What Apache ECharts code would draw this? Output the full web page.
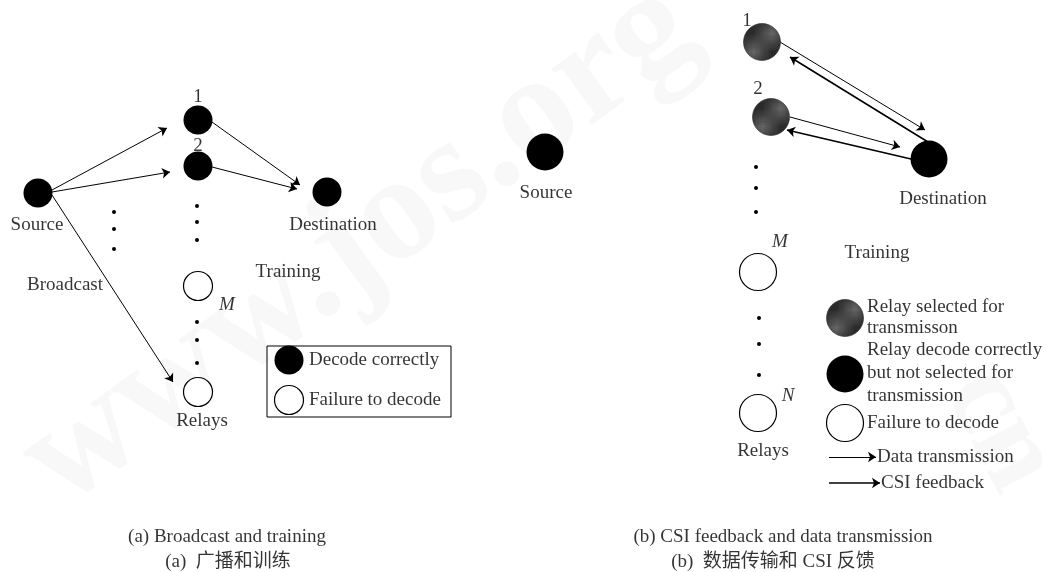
<!DOCTYPE html>
<html>
<head>
<meta charset="utf-8">
<title>Relay selection: broadcast, training and feedback</title>
<script src="https://cdn.jsdelivr.net/npm/echarts@6/dist/echarts.min.js"></script>
<style>
  html, body { margin: 0; padding: 0; background: #fff; }
  #main { width: 1046px; height: 572px; }
</style>
</head>
<body>
<div id="main"></div>
<script>
// the figure lives in its own space: x to the right, y downwards (same span as the picture)

// (a) broadcast and training -- [x, y, kind]
const nodesA = [
  [38, 193, 'solid'],   // Source
  [198, 120, 'solid'],  // relay 1
  [198, 166, 'solid'],  // relay 2
  [327, 192, 'solid'],  // Destination
  [198, 286, 'open'],   // relay M
  [198, 392, 'open']    // last relay
];
const legendNodesA = [[289, 360, 'solid'], [289, 400, 'open']];
const dotsA = [[114, 212], [114, 229], [114, 249], [197, 206], [197, 222], [197, 240], [197, 322], [197, 340], [197, 363]];
const arrowsA = [ // [x1, y1, x2, y2]
  [52, 190, 167, 128],
  [52, 192, 170, 172],
  [212, 122, 300, 185],
  [212, 167, 297, 189],
  [52, 195, 173, 382]
];
const legendBoxA = [[267, 346], [451, 346], [451, 417], [267, 417], [267, 346]];

// (b) CSI feedback and data transmission
const nodesB = [
  [545, 152, 'solid'],  // Source
  [762, 42, 'hatch'],   // relay 1
  [771, 117, 'hatch'],  // relay 2
  [929, 159, 'solid'],  // Destination
  [758, 272, 'open'],   // relay M
  [758, 413, 'open']    // relay N
];
const legendNodesB = [[845, 318, 'hatch'], [845, 374, 'solid'], [845, 423, 'open']];
const dotsB = [[756, 167], [756, 188], [756, 212], [759, 318], [759, 344], [759, 375]];
const dataArrowsB = [[780, 42, 925, 130], [790, 117, 900, 147], [829, 457, 876, 457]];
const csiArrowsB = [[928, 142, 790, 57], [911, 159, 787, 130], [829, 483, 880, 483]];

// texts -- [text, x, y, align, italic]
const labels = [
  ['1', 198, 97, 'center'],
  ['2', 198, 146, 'center'],
  ['Source', 37, 225, 'center'],
  ['Destination', 333, 225, 'center'],
  ['Broadcast', 65, 285, 'center'],
  ['Training', 288, 272, 'center'],
  ['M', 227, 305, 'center', true],
  ['Relays', 202, 421, 'center'],
  ['Decode correctly', 309, 360, 'left'],
  ['Failure to decode', 309, 400, 'left'],
  ['1', 747, 21, 'center'],
  ['2', 758, 89, 'center'],
  ['Source', 546, 193, 'center'],
  ['Destination', 943, 199, 'center'],
  ['M', 780, 242, 'center', true],
  ['Training', 877, 253, 'center'],
  ['N', 788, 396, 'center', true],
  ['Relays', 763, 451, 'center'],
  ['Relay selected for', 867, 307, 'left'],
  ['transmisson', 867, 328, 'left'],
  ['Relay decode correctly', 867, 350, 'left'],
  ['but not selected for', 867, 373, 'left'],
  ['transmission', 867, 396, 'left'],
  ['Failure to decode', 867, 423, 'left'],
  ['Data transmission', 877, 457, 'left'],
  ['CSI feedback', 881, 483, 'left']
];
const captions = [
  ['(a) Broadcast and training', 227, 537],
  ['(a)  广播和训练', 228, 562],
  ['(b) CSI feedback and data transmission', 783, 537],
  ['(b)  数据传输和 CSI 反馈', 773, 562]
];

const serif = "'Liberation Serif', 'Times New Roman', serif";

// dark hatch fill for the selected relays
const hatch = document.createElement('canvas');
hatch.width = 4;
hatch.height = 4;
const hg = hatch.getContext('2d');
hg.fillStyle = '#2a2a2a';
hg.fillRect(0, 0, 4, 4);
hg.strokeStyle = '#777';
hg.lineWidth = 0.8;
hg.beginPath();
hg.moveTo(0, 4); hg.lineTo(4, 0);
hg.moveTo(-1, 1); hg.lineTo(1, -1);
hg.moveTo(3, 5); hg.lineTo(5, 3);
hg.stroke();

function nodeStyle(kind) {
  if (kind === 'open') return { color: '#fff', borderColor: '#000', borderWidth: 1.2, opacity: 1 };
  if (kind === 'hatch') return { color: { image: hatch, repeat: 'repeat' }, borderColor: '#222', borderWidth: 0.6, opacity: 1 };
  return { color: '#000', opacity: 1 };
}

function nodeSeries(list, size) {
  return {
    type: 'scatter',
    symbol: 'circle',
    symbolSize: size,
    z: 5,
    data: list.map(n => ({ value: [n[0], n[1]], itemStyle: nodeStyle(n[2]) }))
  };
}

function arrowSeries(list, width) {
  return {
    type: 'lines',
    coordinateSystem: 'cartesian2d',
    symbol: ['none', 'arrow'],
    symbolSize: 8,
    z: 3,
    lineStyle: { color: '#000', width: width, opacity: 1, curveness: 0 },
    data: list.map(a => ({ coords: [[a[0], a[1]], [a[2], a[3]]] }))
  };
}

function textSeries(list, size, family) {
  return {
    type: 'scatter',
    symbolSize: 1,
    itemStyle: { color: 'rgba(0,0,0,0)' },
    z: 6,
    label: { show: true, position: 'inside', color: '#000', fontSize: size, fontFamily: family },
    data: list.map(t => ({
      name: t[0],
      value: [t[1], t[2]],
      label: { formatter: '{b}', align: t[3] || 'center', verticalAlign: 'middle', fontStyle: t[4] ? 'italic' : 'normal' }
    }))
  };
}

// faint embossed watermark, like the scanned page
function watermark(text, x, y, deg, size) {
  return {
    type: 'text',
    z: -10,
    x: x, y: y,
    rotation: deg * Math.PI / 180,
    style: {
      text: text,
      font: 'bold ' + size + "px 'Liberation Serif', serif",
      fill: '#f8f8f8',
      align: 'center',
      verticalAlign: 'middle',
      shadowColor: 'rgba(0,0,0,0.10)',
      shadowBlur: 14,
      shadowOffsetX: 4,
      shadowOffsetY: 5
    }
  };
}

const chart = echarts.init(document.getElementById('main'));
chart.setOption({
  backgroundColor: '#fff',
  animation: false,
  graphic: [
    watermark('www.jos.org', 360, 245, 36, 150),
    watermark('cn', 1000, 430, -62, 120)
  ],
  grid: { left: 0, right: 0, top: 0, bottom: 0 },
  xAxis: { type: 'value', min: 0, max: 1046, show: false },
  yAxis: { type: 'value', min: 0, max: 572, inverse: true, show: false },
  series: [
    arrowSeries(arrowsA, 1),
    arrowSeries(dataArrowsB, 1),
    arrowSeries(csiArrowsB, 1.6),
    {
      type: 'lines',
      coordinateSystem: 'cartesian2d',
      polyline: true,
      symbol: 'none',
      lineStyle: { color: '#000', width: 1, opacity: 1 },
      data: [{ coords: legendBoxA }]
    },
    nodeSeries(nodesA, 29),
    nodeSeries(legendNodesA, 29),
    nodeSeries(nodesB, 37),
    nodeSeries(legendNodesB, 37),
    {
      type: 'scatter',
      symbol: 'circle',
      symbolSize: 4,
      itemStyle: { color: '#000', opacity: 1 },
      data: dotsA.concat(dotsB)
    },
    textSeries(labels, 19, serif),
    textSeries(captions, 19, "'Liberation Serif', 'Noto Sans CJK SC', serif")
  ]
});
</script>
</body>
</html>
